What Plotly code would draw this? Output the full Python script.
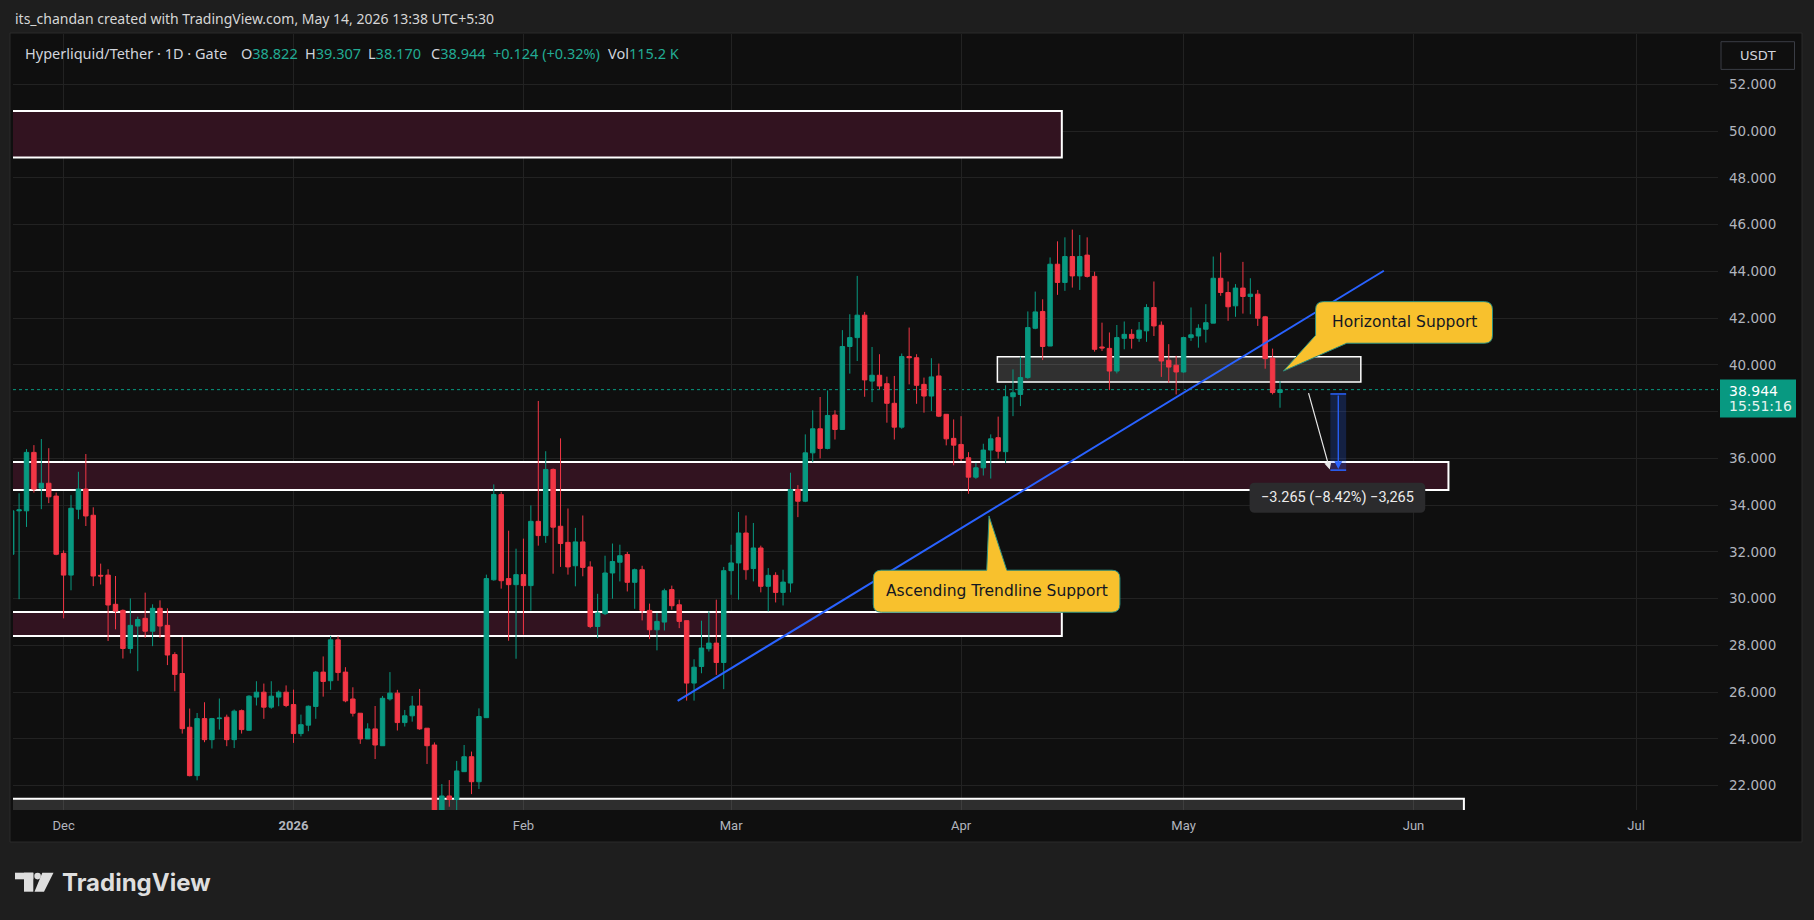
import pandas as pd
import plotly.graph_objects as go

# ---------------- data ----------------
FIRST_DAY = "2025-11-24"
BASE = pd.Timestamp("2025-12-01")

opens = [
    31.90, 33.76, 33.76, 36.26, 34.73, 34.94, 34.39,
    31.94, 31.01, 33.83, 34.69, 33.57, 31.00, 31.01, 29.76, 29.50, 27.87, 28.83, 29.16, 28.61, 29.59, 28.86, 27.61,
    26.80, 24.50, 22.43, 24.87, 23.97, 24.87, 24.93, 23.97, 25.21, 24.37, 25.79, 26.00, 25.36, 25.79, 26.00,
    25.47, 24.23, 24.59, 25.39, 26.86, 26.49, 28.24, 26.86, 25.71, 25.10, 24.00, 24.43, 23.71, 25.71, 25.96, 24.70,
    24.99, 25.41, 24.46, 23.74, 20.75, 21.56, 21.41, 22.60, 23.24, 22.17, 24.91, 30.81, 34.46, 30.86, 30.60,
    31.03, 30.56, 33.31, 32.70, 35.53, 33.10, 32.41, 31.41, 32.43, 31.36, 28.81, 29.36, 31.10, 31.56, 31.89, 30.70,
    31.24, 29.50, 28.67, 29.00, 30.39, 29.74, 29.06, 26.39, 27.10, 27.86, 28.10, 27.27,
    31.20, 31.53, 32.81, 31.29, 32.17, 30.53, 31.00, 30.27, 30.67, 34.67, 34.17, 36.24, 37.27, 36.43, 37.86, 37.24,
    40.79, 41.17, 42.13, 39.31, 39.56, 39.20, 38.36, 37.34, 40.36, 40.31, 39.17, 38.67, 39.53, 37.89, 36.86,
    36.60, 36.03, 35.20, 35.60, 36.36, 36.89, 36.29, 38.64, 38.74, 39.46, 41.57, 42.29, 40.81, 44.31, 43.53, 44.64,
    43.81, 44.70, 43.79, 40.77, 40.71, 39.74, 41.14, 41.31, 41.14, 41.46, 42.46, 41.70, 40.20, 39.99,
    39.70, 41.17, 41.24, 41.53, 41.79, 43.71, 43.10, 42.53, 43.29, 42.93, 43.03, 42.06, 40.29, 38.822,
]
highs = [
    33.80, 34.51, 36.40, 36.57, 36.83, 36.44, 34.54,
    32.07, 34.43, 35.43, 36.19, 33.91, 31.50, 31.26, 30.97, 29.54, 30.01, 29.23, 30.26, 29.76, 29.93, 29.59, 27.71,
    28.36, 25.30, 25.11, 25.57, 24.90, 25.73, 25.04, 25.26, 25.26, 25.87, 26.47, 26.37, 26.47, 26.07, 26.29,
    26.11, 25.04, 25.43, 26.91, 27.53, 28.41, 28.39, 27.07, 26.21, 25.10, 24.67, 25.41, 25.84, 26.86, 26.10, 25.24,
    25.84, 26.14, 24.46, 23.85, 22.07, 22.24, 23.06, 23.74, 23.46, 25.31, 31.03, 34.89, 34.57, 32.91, 32.14,
    32.57, 33.99, 38.46, 36.31, 35.57, 36.86, 33.86, 33.03, 33.56, 31.60, 30.21, 31.84, 32.36, 32.31, 32.00, 31.29,
    31.41, 29.79, 29.39, 30.43, 30.56, 29.96, 29.06, 27.41, 29.06, 29.46, 29.96, 31.36,
    32.31, 33.71, 33.56, 33.24, 32.27, 31.31, 31.13, 31.24, 35.39, 34.86, 37.03, 38.06, 38.63, 38.91, 38.06, 41.49,
    42.17, 43.81, 42.27, 40.77, 40.46, 39.50, 39.53, 40.49, 41.60, 40.46, 39.46, 40.29, 40.06, 37.89, 37.67,
    37.81, 36.27, 35.81, 36.63, 37.03, 37.79, 39.13, 39.81, 40.36, 42.29, 43.14, 42.81, 44.60, 45.29, 45.46, 45.79,
    45.56, 45.46, 43.99, 41.81, 41.39, 41.71, 41.86, 41.53, 41.84, 42.60, 43.57, 41.86, 40.89, 40.39,
    41.21, 42.46, 41.74, 42.60, 44.64, 44.81, 43.57, 43.46, 44.41, 43.71, 43.21, 42.10, 40.70, 39.307,
]
lows = [
    31.80, 29.98, 33.07, 34.54, 33.83, 34.09, 31.86,
    29.16, 30.36, 33.40, 33.11, 30.54, 30.61, 28.19, 28.69, 27.44, 27.66, 26.90, 28.33, 27.97, 28.33, 27.16, 26.04,
    24.23, 22.40, 22.23, 23.86, 23.59, 24.40, 23.69, 23.61, 24.23, 24.37, 25.43, 24.86, 25.29, 25.40, 25.36,
    23.83, 24.11, 24.33, 24.86, 25.81, 26.10, 26.49, 25.57, 24.96, 23.79, 24.00, 23.14, 23.71, 25.64, 24.36, 24.53,
    24.74, 24.39, 22.93, 20.55, 20.50, 21.10, 20.85, 22.60, 21.64, 21.86, 24.90, 30.77, 30.43, 28.20, 27.43,
    28.46, 29.49, 32.27, 32.39, 31.07, 31.36, 31.03, 30.53, 30.96, 28.74, 28.31, 29.30, 30.00, 30.74, 30.31, 29.57,
    29.07, 28.27, 27.79, 28.64, 29.53, 28.74, 25.64, 25.64, 26.81, 27.74, 26.74, 26.13,
    30.17, 29.96, 30.81, 30.74, 30.27, 29.46, 29.84, 29.71, 30.27, 33.49, 34.13, 35.84, 36.00, 36.39, 36.81, 37.24,
    39.63, 40.17, 38.64, 38.41, 38.96, 37.53, 36.81, 37.27, 39.17, 38.34, 37.96, 38.03, 37.77, 36.56, 35.71,
    35.89, 34.49, 35.13, 35.27, 35.14, 35.99, 35.81, 37.81, 38.24, 39.41, 41.53, 40.21, 40.81, 43.00, 43.17, 43.31,
    43.21, 43.74, 40.57, 40.60, 38.93, 39.64, 40.67, 40.70, 40.99, 40.99, 41.24, 39.49, 39.24, 38.74,
    39.67, 41.03, 40.74, 40.96, 41.79, 42.96, 41.89, 42.06, 42.20, 42.17, 41.67, 39.84, 38.74, 38.170,
]
closes = [
    33.76, 33.80, 36.26, 34.69, 34.94, 34.36, 31.90,
    31.01, 33.87, 34.69, 33.54, 30.97, 30.97, 29.73, 29.47, 27.87, 28.86, 29.11, 28.61, 29.59, 28.83, 27.59, 26.76,
    24.44, 22.43, 24.87, 23.97, 24.87, 24.89, 23.97, 25.19, 24.40, 25.83, 26.00, 25.36, 25.83, 26.00, 25.43,
    24.23, 24.61, 25.40, 26.86, 26.46, 28.24, 26.84, 25.63, 25.10, 24.00, 24.43, 23.74, 25.74, 25.96, 24.70, 24.99,
    25.41, 24.43, 23.71, 20.75, 21.56, 21.41, 22.63, 23.24, 22.17, 24.96, 30.86, 34.46, 30.77, 30.60, 31.03,
    30.56, 33.31, 32.70, 35.53, 33.06, 32.36, 31.36, 32.43, 31.34, 28.81, 29.39, 31.10, 31.59, 31.84, 30.70, 31.24,
    29.50, 28.67, 29.03, 30.34, 29.70, 29.03, 26.39, 27.07, 27.89, 28.10, 27.27, 31.20,
    31.53, 32.81, 31.24, 32.17, 30.53, 31.00, 30.27, 30.71, 34.67, 34.17, 36.24, 37.27, 36.43, 37.84, 37.24, 40.79,
    41.17, 42.13, 39.36, 39.56, 39.10, 38.36, 37.34, 40.36, 40.31, 39.13, 38.67, 39.49, 37.81, 36.84, 36.57,
    36.00, 35.20, 35.60, 36.36, 36.84, 36.31, 38.64, 38.81, 39.46, 41.60, 42.27, 40.79, 44.31, 43.53, 44.64, 43.81,
    44.64, 43.79, 40.67, 40.73, 39.74, 41.17, 41.31, 41.14, 41.49, 42.46, 41.67, 40.17, 39.91, 39.70,
    41.17, 41.29, 41.57, 41.81, 43.71, 43.10, 42.49, 43.29, 42.93, 43.03, 42.00, 40.27, 38.82, 38.944,
]

month_ticks = ["2025-12-01", "2026-01-01", "2026-02-01", "2026-03-01",
               "2026-04-01", "2026-05-01", "2026-06-01", "2026-07-01"]
month_labels = ["Dec", "<b>2026</b>", "Feb", "Mar", "Apr", "May", "Jun", "Jul"]
price_ticks = [22, 24, 26, 28, 30, 32, 34, 36, 38, 40, 42, 44, 46, 48, 50, 52]
last_price = 38.944

# ---------------- geometry / style ----------------
W, H = 1814, 920
PL, PR, PT, PB = 13, 1718, 34, 810
X_RANGE = [-6.82, 223.05]
Y_RANGE = [20.96, 54.16]
GREEN, RED = "#089981", "#f23645"
BG_OUT, BG_IN = "#1e1e1e", "#0f0f0f"
ZONE_FILL = "#321320"
BLUE = "#2962ff"
CALLOUT = "#f8c12d"


def d(s):
    return (pd.Timestamp(s) - BASE) / pd.Timedelta(days=1)


def px(x):
    return (x - PL) / (PR - PL)


def py(y):
    return (PB - y) / (PB - PT)


dates = pd.date_range(FIRST_DAY, periods=len(closes), freq="D")
xs = [(t - BASE) / pd.Timedelta(days=1) for t in dates]

fig = go.Figure()
fig.add_trace(go.Candlestick(
    x=xs, open=opens, high=highs, low=lows, close=closes,
    increasing=dict(line=dict(color=GREEN, width=1), fillcolor=GREEN),
    decreasing=dict(line=dict(color=RED, width=1), fillcolor=RED),
    whiskerwidth=0, hoverinfo="skip", showlegend=False,
))

shapes = []
annotations = []

# chart panel
shapes.append(dict(type="rect", xref="paper", yref="paper", x0=px(10), x1=px(1802),
                   y0=py(842), y1=py(33), fillcolor=BG_IN, line=dict(color="#2a2a2a", width=1),
                   layer="below"))

# zones (boxes)
far_left = d("2025-10-01")
zones = [
    (48.88, 50.87, d("2026-04-14 14:00"), ZONE_FILL),
    (34.65, 35.85, d("2026-06-05 17:00"), ZONE_FILL),
    (28.40, 29.43, d("2026-04-14 14:00"), ZONE_FILL),
    (15.00, 21.44, d("2026-06-07 19:00"), "rgba(255,255,255,0.13)"),
]
for lo, hi, x_end, fill in zones:
    shapes.append(dict(type="rect", xref="x", yref="y", x0=far_left, x1=x_end, y0=lo, y1=hi,
                       fillcolor=fill, line=dict(color="white", width=2), layer="between"))

# horizontal support box
shapes.append(dict(type="rect", xref="x", yref="y", x0=d("2026-04-05 21:30"), x1=d("2026-05-24 21:30"),
                   y0=39.27, y1=40.35, fillcolor="rgba(255,255,255,0.14)",
                   line=dict(color="white", width=1.5), layer="between"))

# last price dotted line
shapes.append(dict(type="line", xref="paper", yref="y", x0=0, x1=1, y0=last_price, y1=last_price,
                   line=dict(color=GREEN, width=1, dash="dot"), layer="between"))

# ascending trendline
shapes.append(dict(type="line", xref="x", yref="y", x0=d("2026-02-21 19:00"), y0=25.63,
                   x1=d("2026-05-28"), y1=44.03, line=dict(color=BLUE, width=2), layer="above"))

# measure tool
m_x0, m_x1 = d("2026-05-20 19:00"), d("2026-05-22 22:00")
m_top, m_bot = 38.76, 35.50
m_mid = (m_x0 + m_x1) / 2
shapes.append(dict(type="rect", xref="x", yref="y", x0=m_x0, x1=m_x1, y0=m_bot, y1=m_top,
                   fillcolor="rgba(41,98,255,0.22)", line=dict(width=0), layer="above"))
for yy in (m_top, m_bot):
    shapes.append(dict(type="line", xref="x", yref="y", x0=m_x0, x1=m_x1, y0=yy, y1=yy,
                       line=dict(color=BLUE, width=1.5), layer="above"))
annotations.append(dict(x=m_mid, y=m_bot + 0.05, ax=m_mid, ay=m_top, xref="x", yref="y",
                        axref="x", ayref="y", text="", showarrow=True, arrowhead=2,
                        arrowsize=1.2, arrowwidth=1.3, arrowcolor=BLUE))
annotations.append(dict(x=d("2026-05-20 17:00"), y=35.53, ax=d("2026-05-17 19:00"), ay=38.86,
                        xref="x", yref="y", axref="x", ayref="y", text="", showarrow=True,
                        arrowhead=2, arrowsize=1.2, arrowwidth=1.2, arrowcolor="#e8e8e8"))


def rounded_path(x0, x1, y0, y1, rx, ry, notch=None):
    p = [f"M{x0 + rx},{y1}"]
    if notch and notch[0] == "top":
        _, b0, b1, tx, ty = notch
        p.append(f"L{b0},{y1} L{tx},{ty} L{b1},{y1}")
    p.append(f"L{x1 - rx},{y1} Q{x1},{y1} {x1},{y1 - ry}")
    p.append(f"L{x1},{y0 + ry} Q{x1},{y0} {x1 - rx},{y0}")
    if notch and notch[0] == "bottomleft":
        _, b1, tx, ty = notch
        p.append(f"L{b1},{y0} L{tx},{ty} L{x0},{y0 + ry}")
    else:
        p.append(f"L{x0 + rx},{y0} Q{x0},{y0} {x0},{y0 + ry}")
    p.append(f"L{x0},{y1 - ry} Q{x0},{y1} {x0 + rx},{y1} Z")
    return " ".join(p)


RX, RY = 1.08, 0.34
# measure label
lb = (d("2026-05-09 21:30"), d("2026-06-02 14:00"), 33.68, 34.96)
shapes.append(dict(type="path", xref="x", yref="y",
                   path=rounded_path(lb[0], lb[1], lb[2], lb[3], 0.7, 0.22),
                   fillcolor="#2b2b2d", line=dict(width=0), layer="above"))
annotations.append(dict(x=(lb[0] + lb[1]) / 2, y=(lb[2] + lb[3]) / 2, xref="x", yref="y",
                        xanchor="center", yanchor="middle",
                        text="\u22123.265 (\u22128.42%) \u22123,265", showarrow=False,
                        font=dict(family="Roboto", size=14.5, color="#ececec")))

# callouts
hs = (d("2026-05-18 19:00"), d("2026-06-11 15:30"), 40.93, 42.71)
shapes.append(dict(type="path", xref="x", yref="y",
                   path=rounded_path(hs[0], hs[1], hs[2], hs[3], RX, RY,
                                     notch=("bottomleft", d("2026-05-23"), d("2026-05-14 11:00"), 39.74)),
                   fillcolor=CALLOUT, line=dict(color="#2b8f7f", width=1), layer="above"))
annotations.append(dict(x=(hs[0] + hs[1]) / 2, y=(hs[2] + hs[3]) / 2, xref="x", yref="y",
                        xanchor="center", yanchor="middle",
                        text="Horizontal Support", showarrow=False,
                        font=dict(family="DejaVu Sans", size=15.5, color="#131722")))

at = (d("2026-03-20 04:00"), d("2026-04-22 10:00"), 29.42, 31.22)
shapes.append(dict(type="path", xref="x", yref="y",
                   path=rounded_path(at[0], at[1], at[2], at[3], RX, RY,
                                     notch=("top", d("2026-04-04 11:00"), d("2026-04-07 04:00"),
                                            d("2026-04-04 18:30"), 33.54)),
                   fillcolor=CALLOUT, line=dict(color="#2b8f7f", width=1), layer="above"))
annotations.append(dict(x=(at[0] + at[1]) / 2, y=(at[2] + at[3]) / 2, xref="x", yref="y",
                        xanchor="center", yanchor="middle",
                        text="Ascending Trendline Support", showarrow=False,
                        font=dict(family="DejaVu Sans", size=15.5, color="#131722")))

# last price label on axis
shapes.append(dict(type="rect", xref="paper", yref="paper", x0=px(1720), x1=px(1796),
                   y0=py(417.5), y1=py(379.5), fillcolor=GREEN, line=dict(width=0)))
annotations.append(dict(x=px(1727), y=py(391), xref="paper", yref="paper", xanchor="left",
                        yanchor="middle", text=f"{last_price:.3f}", showarrow=False,
                        font=dict(family="DejaVu Sans", size=14, color="#ffffff")))
annotations.append(dict(x=px(1727), y=py(406.5), xref="paper", yref="paper", xanchor="left",
                        yanchor="middle", text="15:51:16", showarrow=False,
                        font=dict(family="DejaVu Sans", size=14, color="#e3f3ef")))

# USDT button
ux0, ux1, uy0, uy1 = px(1721), px(1794.5), py(69.4), py(41.7)
shapes.append(dict(type="rect", xref="paper", yref="paper", x0=ux0, x1=ux1, y0=uy0, y1=uy1,
                   fillcolor=BG_IN, line=dict(color="#3a3d45", width=1)))
annotations.append(dict(x=(ux0 + ux1) / 2, y=(uy0 + uy1) / 2, xref="paper", yref="paper",
                        xanchor="center", yanchor="middle",
                        text="USDT", showarrow=False,
                        font=dict(family="DejaVu Sans", size=13, color="#d1d4dc")))

# header and legend
annotations.append(dict(x=px(13), y=py(18.5), xref="paper", yref="paper", xanchor="left",
                        yanchor="middle", showarrow=False,
                        text="its_chandan created with TradingView.com, May 14, 2026 13:38 UTC+5:30",
                        font=dict(family="Noto Sans", size=14, color="#d6d6d6")))
TEAL = "#22ab94"
LIGHT = "#d1d4dc"
legend_items = [
    (23, f"<span style='color:{LIGHT}'>Hyperliquid/Tether · 1D · Gate</span>"),
    (239, f"<span style='color:{LIGHT}'>O</span><span style='color:{TEAL}'>38.822</span>"),
    (302.7, f"<span style='color:{LIGHT}'>H</span><span style='color:{TEAL}'>39.307</span>"),
    (366, f"<span style='color:{LIGHT}'>L</span><span style='color:{TEAL}'>38.170</span>"),
    (428.6, f"<span style='color:{LIGHT}'>C</span><span style='color:{TEAL}'>38.944</span>"),
    (491, f"<span style='color:{TEAL}'>+0.124 (+0.32%)</span>"),
    (606, f"<span style='color:{LIGHT}'>Vol</span><span style='color:{TEAL}'>115.2 K</span>"),
]
for xp, txt in legend_items:
    annotations.append(dict(x=px(xp), y=py(53), xref="paper", yref="paper", xanchor="left",
                            yanchor="middle", text=txt, showarrow=False,
                            font=dict(family="Noto Sans", size=14.5, color=LIGHT)))

# TradingView logo
LOGO = "#dedede"
shapes.append(dict(type="rect", xref="paper", yref="paper", x0=px(15), x1=px(33.3),
                   y0=py(879.3), y1=py(872.7), fillcolor=LOGO, line=dict(width=0)))
shapes.append(dict(type="rect", xref="paper", yref="paper", x0=px(24), x1=px(33.3),
                   y0=py(891.7), y1=py(872.7), fillcolor=LOGO, line=dict(width=0)))
shapes.append(dict(type="circle", xref="paper", yref="paper", x0=px(34.3), x1=px(40.9),
                   y0=py(879.4), y1=py(872.8), fillcolor=LOGO, line=dict(width=0)))
shapes.append(dict(type="path", xref="paper", yref="paper",
                   path=f"M{px(42.3)},{py(872.7)} L{px(53.5)},{py(872.7)} L{px(44)},{py(891.7)} "
                        f"L{px(34.5)},{py(891.7)} Z",
                   fillcolor=LOGO, line=dict(width=0)))
annotations.append(dict(x=px(60), y=py(882.5), xref="paper", yref="paper", xanchor="left",
                        yanchor="middle", text="<b>TradingView</b>", showarrow=False,
                        font=dict(family="Inter", size=24, color=LOGO)))

fig.update_layout(
    width=W, height=H,
    margin=dict(l=PL, r=W - PR, t=PT, b=H - PB),
    paper_bgcolor=BG_OUT, plot_bgcolor=BG_IN,
    shapes=shapes, annotations=annotations,
    showlegend=False, boxgap=0.25, boxgroupgap=0.2,
    xaxis=dict(
        range=X_RANGE, rangeslider=dict(visible=False),
        tickmode="array", tickvals=[d(m) for m in month_ticks], ticktext=month_labels,
        showgrid=True, gridcolor="#222222", gridwidth=1, zeroline=False, showline=False,
        ticks="", ticklabelstandoff=6,
        tickfont=dict(family="Roboto", size=13, color="#b2b5be"),
    ),
    yaxis=dict(
        range=Y_RANGE, side="right",
        tickmode="array", tickvals=price_ticks,
        ticktext=["" if v == 38 else f"{v:.3f}" for v in price_ticks],
        showgrid=True, gridcolor="#222222", gridwidth=1, zeroline=False, showline=False,
        ticks="", ticklabelstandoff=10,
        tickfont=dict(family="DejaVu Sans", size=13.5, color="#b2b5be"),
    ),
)

fig.write_html("out.html", config={"displayModeBar": False},
               post_script="document.body.style.margin='0px';")
